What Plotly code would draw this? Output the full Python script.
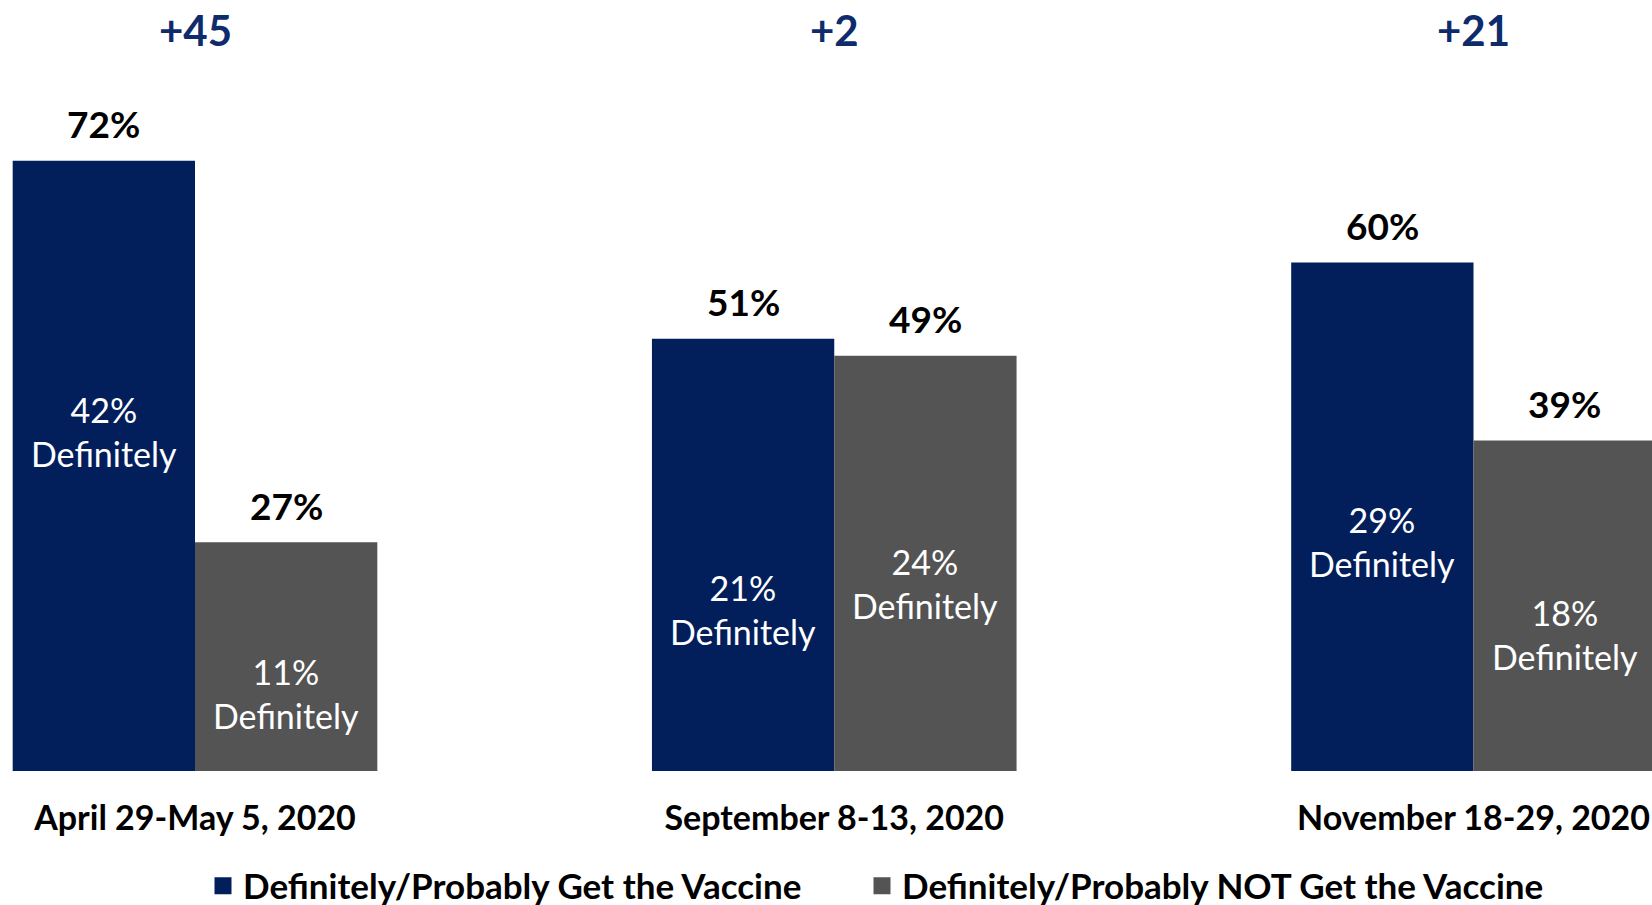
import plotly.graph_objects as go

# ---- data ----
periods = ["April 29-May 5, 2020", "September 8-13, 2020", "November 18-29, 2020"]
series_names = ["Definitely/Probably Get the Vaccine", "Definitely/Probably NOT Get the Vaccine"]
get_total = [72, 51, 60]
not_total = [27, 49, 39]
get_definitely = [42, 21, 29]
not_definitely = [11, 24, 18]

# ---- style ----
BLUE = "#021F5C"
GRAY = "#545454"
NAVY_TXT = "#0E2B6C"
FONT = "Lato"
BARGAP = 0.4296
HALF = (1 - BARGAP) / 4  # offset of each bar centre from the group centre
W, H = 1652, 905
T, B = 93, 134
PH = H - T - B
UNIT = 639.25             # px per category
X0 = 195                  # px of first group centre

xpos = list(range(len(periods)))

fig = go.Figure()
colors = [BLUE, GRAY]
legends = ["legend", "legend2"]
for k, (vals, name) in enumerate(((get_total, series_names[0]), (not_total, series_names[1]))):
    fig.add_trace(go.Bar(x=xpos, y=vals, name=name, offsetgroup=str(k), showlegend=False,
                         marker=dict(color=colors[k], line=dict(width=0))))
for k, name in enumerate(series_names):
    # legend entries (no bars drawn), with a thicker outline for a larger swatch
    fig.add_trace(go.Bar(x=[None], y=[None], name=name, offsetgroup=str(k), showlegend=True,
                         legend=legends[k],
                         marker=dict(color=colors[k], line=dict(width=7, color=colors[k]))))

ann = []
for i in xpos:
    diff = get_total[i] - not_total[i]
    ann.append(dict(x=i, y=(PH + T - 30) / PH, xref="x", yref="paper", text=f"<b>{diff:+d}</b>",
                    showarrow=False, font=dict(family=FONT, size=42, color=NAVY_TXT), yanchor="middle"))
    for off, tot, dfn in ((-HALF, get_total[i], get_definitely[i]), (HALF, not_total[i], not_definitely[i])):
        ann.append(dict(x=i + off, y=tot, xref="x", yref="y", text=f"<b>{tot}%</b>", showarrow=False,
                        font=dict(family=FONT, size=37, color="black"), yanchor="middle", yshift=37))
        ann.append(dict(x=i + off, y=dfn, xref="x", yref="y", text=f"{dfn}%<br>Definitely", showarrow=False,
                        font=dict(family=FONT, size=34, color="white"), yanchor="middle", yshift=-16))

legend_style = dict(orientation="h", xanchor="left", y=-115 / PH, yanchor="middle",
                    font=dict(family=FONT, size=35, color="black", weight="bold"),
                    itemclick=False, itemdoubleclick=False, bgcolor="rgba(0,0,0,0)")

fig.update_layout(
    width=W, height=H,
    margin=dict(l=0, r=0, t=T, b=B, autoexpand=False),
    paper_bgcolor="white", plot_bgcolor="white",
    barmode="group", bargap=BARGAP, bargroupgap=0,
    annotations=ann,
    showlegend=True,
    legend=dict(x=203 / W, **legend_style),
    legend2=dict(x=862 / W, **legend_style),
    xaxis=dict(range=[-X0 / UNIT, (W - X0) / UNIT], tickvals=xpos, ticktext=[f"<b>{p}</b>" for p in periods],
               tickfont=dict(family=FONT, size=34, color="black"), showgrid=False, zeroline=False,
               showline=False, ticks="", ticklabelstandoff=24, automargin=False),
    yaxis=dict(range=[0, 80], visible=False, showgrid=False, zeroline=False, automargin=False),
)

fig.write_html("out.html", config={"displayModeBar": False},
               post_script="document.body.style.margin='0px';document.body.style.overflow='hidden';")
